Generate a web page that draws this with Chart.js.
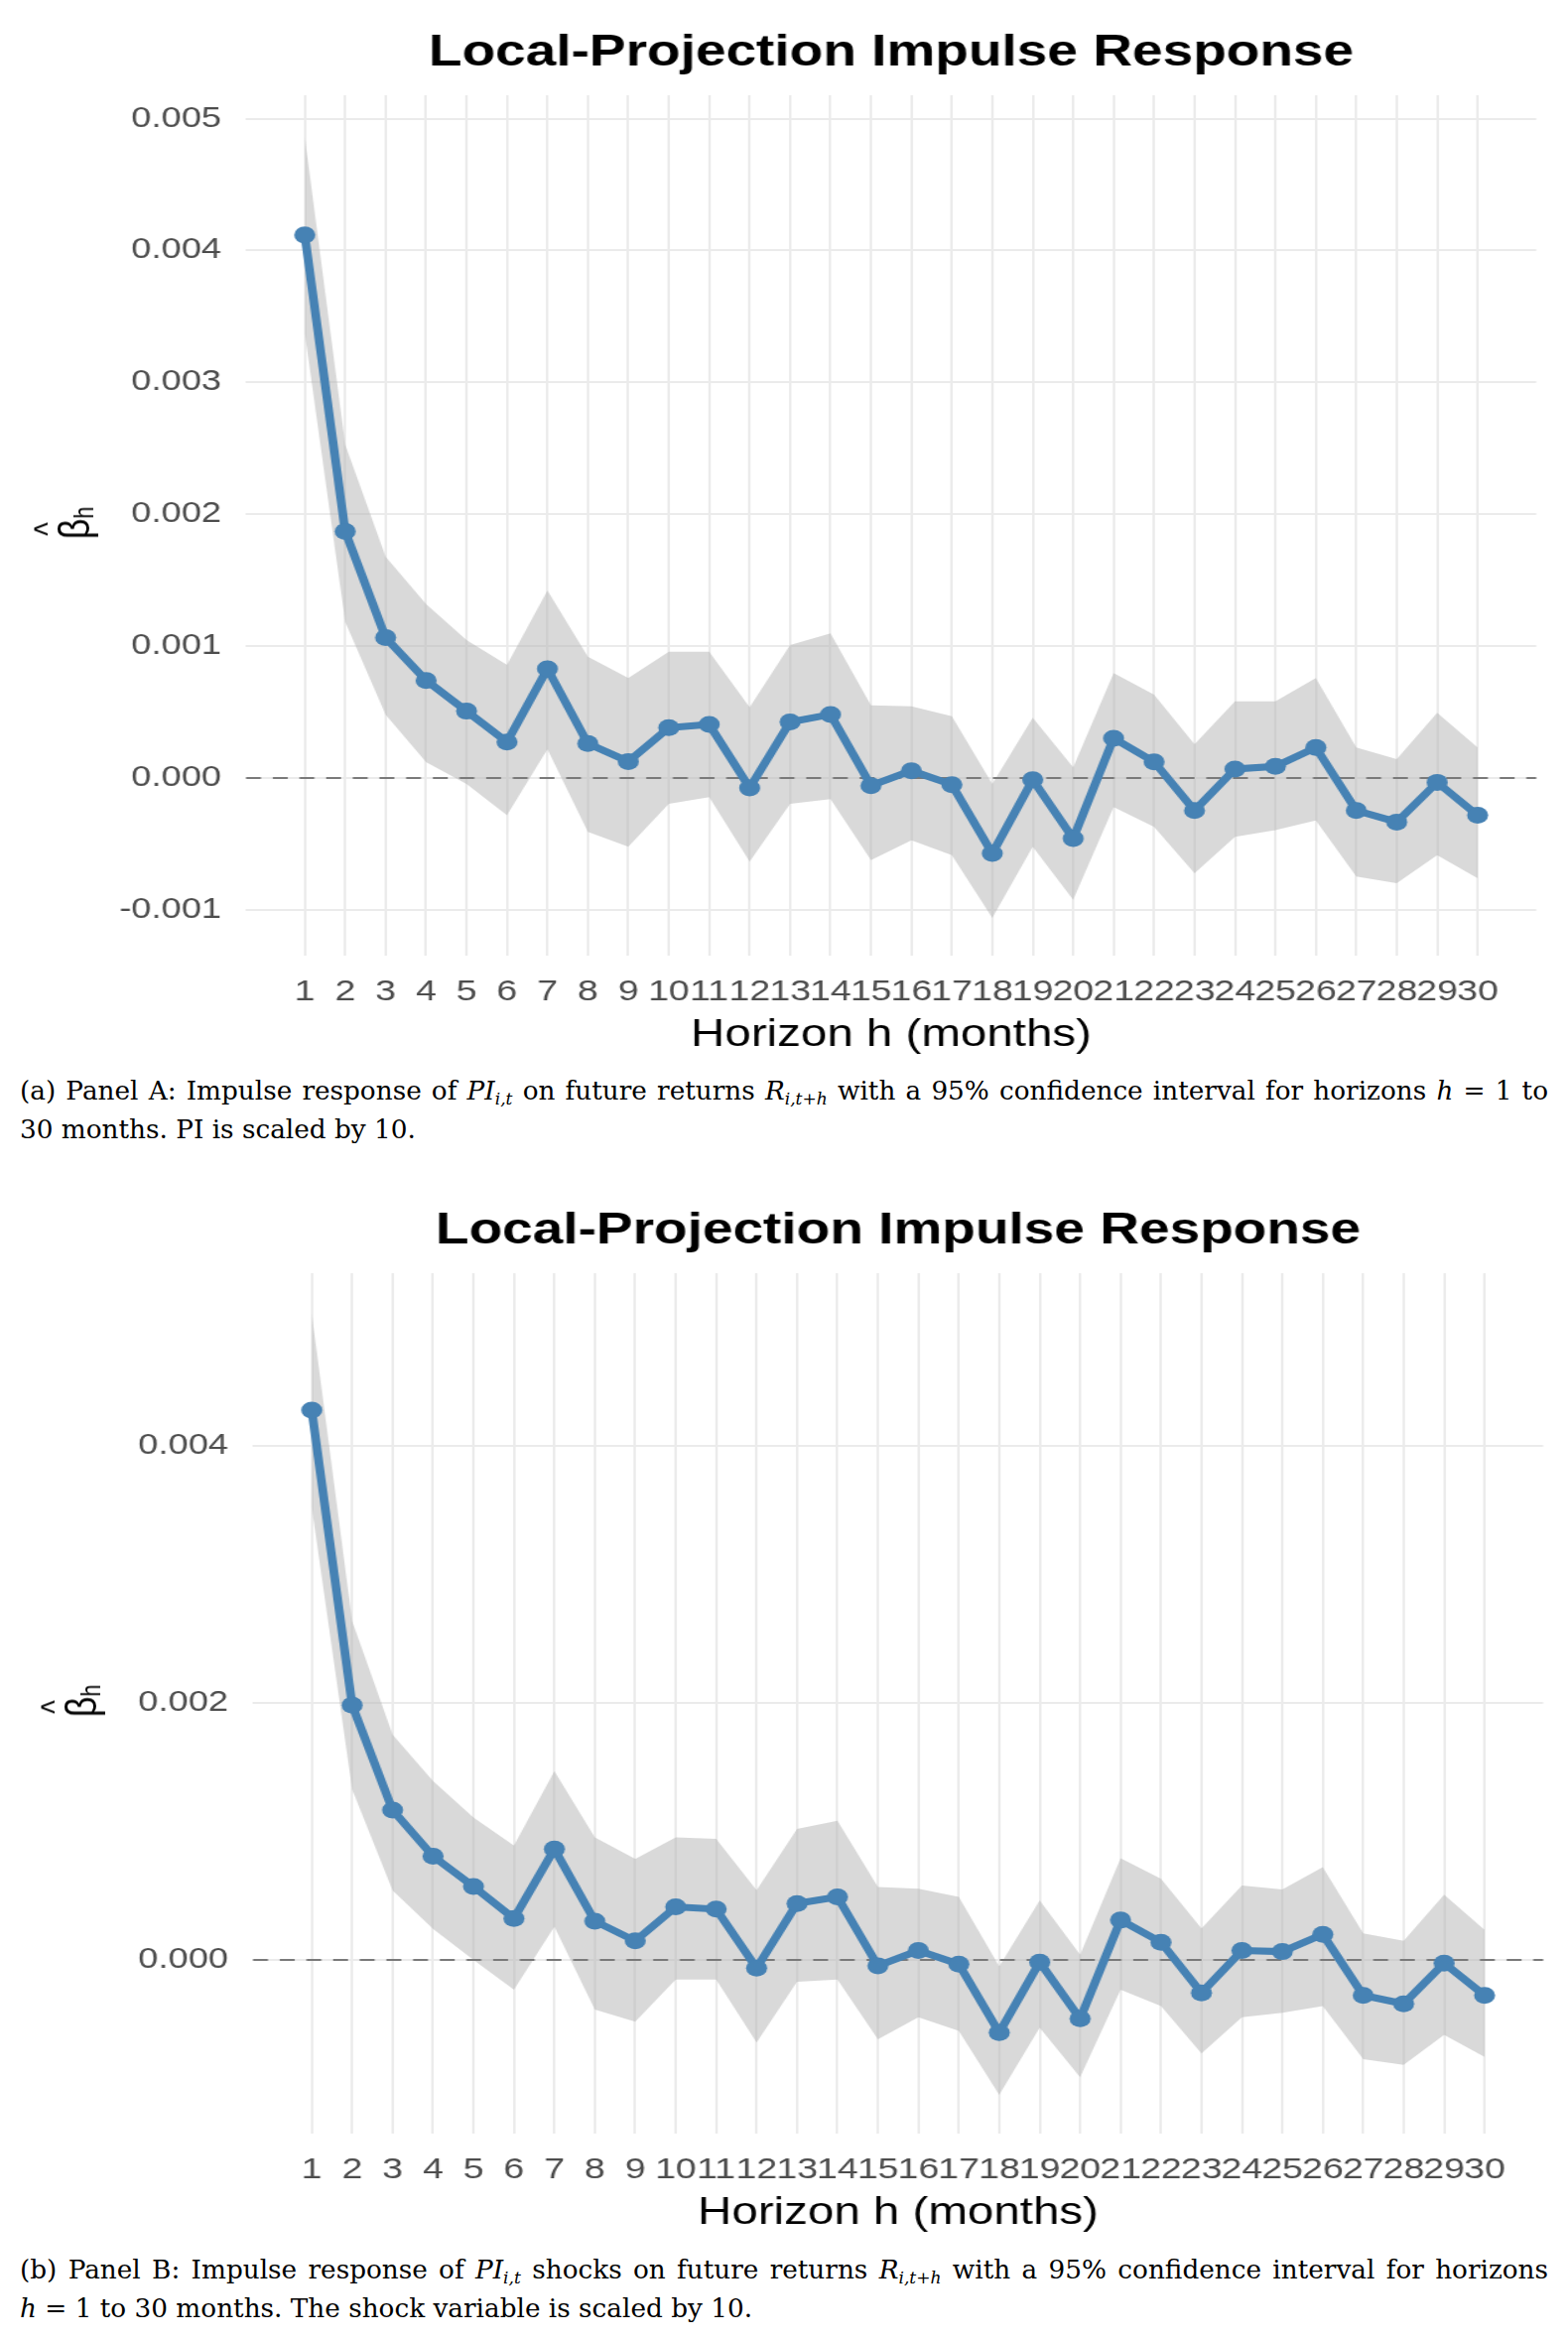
<!DOCTYPE html>
<html>
<head>
<meta charset="utf-8">
<script src="https://cdn.jsdelivr.net/npm/chart.js@4.4.1/dist/chart.umd.min.js"></script>
<style>
  html, body { margin: 0; padding: 0; background: #fff; }
  body { width: 1580px; height: 2359px; position: relative; overflow: hidden; }
  /* the original figure is stretched sideways, so each chart is drawn narrow and widened */
  .panel { position: absolute; width: 1264px; height: 1070px; transform: scaleX(1.25); transform-origin: 0 0; }
  .ytitle {
    position: absolute; left: 60px; top: 527px;
    transform: translate(-50%, -50%) rotate(-90deg);
    font: 36px "Liberation Sans", Arial, sans-serif; color: #000;
    white-space: nowrap; line-height: 1;
  }
  .ytitle .b { position: relative; display: inline-block; }
  .ytitle .hat { position: absolute; left: 0.12em; top: -0.62em; font-size: 0.8em; }
  .ytitle sub { font-size: 0.6em; vertical-align: -0.15em; }
  .cap {
    position: absolute; left: 20px; width: 1540px;
    font-family: "DejaVu Serif", serif; font-size: 26.3px; line-height: 39px; color: #000;
  }
  .cap .just { text-align: justify; text-align-last: justify; white-space: nowrap; }
  .cap sub { font-size: 0.65em; line-height: 0; vertical-align: -0.3em; }
</style>
</head>
<body>

<div class="panel" style="left:0; top:0;">
  <canvas id="chartA" width="1264" height="1070"></canvas>
  <div class="ytitle"><span class="b">β<span class="hat">^</span></span><sub>h</sub></div>
</div>
<div class="cap" style="top:1080px;">
  <div class="just">(a) Panel A: Impulse response of <i>PI</i><sub><i>i,t</i></sub> on future returns <i>R</i><sub><i>i,t+h</i></sub> with a 95% confidence interval for horizons <i>h</i> = 1 to</div>
  <div>30 months. PI is scaled by 10.</div>
</div>

<div class="panel" style="left:6.5px; top:1187px;">
  <canvas id="chartB" width="1264" height="1070"></canvas>
  <div class="ytitle"><span class="b">β<span class="hat">^</span></span><sub>h</sub></div>
</div>
<div class="cap" style="top:2268px;">
  <div class="just">(b) Panel B: Impulse response of <i>PI</i><sub><i>i,t</i></sub> shocks on future returns <i>R</i><sub><i>i,t+h</i></sub> with a 95% confidence interval for horizons</div>
  <div><i>h</i> = 1 to 30 months. The shock variable is scaled by 10.</div>
</div>

<script>
const horizons = [1, 2, 3, 4, 5, 6, 7, 8, 9, 10, 11, 12, 13, 14, 15,
  16, 17, 18, 19, 20, 21, 22, 23, 24, 25, 26, 27, 28, 29, 30];

// Panel A: PI scaled by 10
const estA = [0.004117, 0.001870, 0.001064, 0.000740, 0.000507, 0.000273, 0.000828, 0.000261, 0.000125, 0.000381,
  0.000406, -0.000075, 0.000425, 0.000482, -0.000058, 0.000055, -0.000050, -0.000572, -0.000013, -0.000459,
  0.000301, 0.000123, -0.000246, 0.000068, 0.000088, 0.000231, -0.000246, -0.000334, -0.000033, -0.000283];
const upA = [0.004863, 0.002528, 0.001678, 0.001318, 0.001046, 0.000858, 0.001422, 0.000920, 0.000758, 0.000958,
  0.000958, 0.000537, 0.001008, 0.001096, 0.000552, 0.000544, 0.000469, -0.000045, 0.000457, 0.000080,
  0.000795, 0.000632, 0.000256, 0.000582, 0.000582, 0.000758, 0.000231, 0.000143, 0.000494, 0.000231];
const loA = [0.003375, 0.001183, 0.000480, 0.000120, -0.000045, -0.000283, 0.000218, -0.000409, -0.000522, -0.000196,
  -0.000145, -0.000634, -0.000196, -0.000160, -0.000622, -0.000472, -0.000585, -0.001061, -0.000522, -0.000923,
  -0.000221, -0.000371, -0.000722, -0.000446, -0.000396, -0.000321, -0.000747, -0.000798, -0.000585, -0.000760];

// Panel B: shock variable scaled by 10
const estB = [0.004275, 0.001981, 0.001164, 0.000806, 0.000571, 0.000322, 0.000862, 0.000301, 0.000147, 0.000412,
  0.000394, -0.000064, 0.000438, 0.000489, -0.000046, 0.000072, -0.000033, -0.000566, -0.000018, -0.000458,
  0.000309, 0.000137, -0.000257, 0.000072, 0.000064, 0.000198, -0.000276, -0.000342, -0.000026, -0.000276];
const upB = [0.005027, 0.002635, 0.001750, 0.001390, 0.001107, 0.000888, 0.001467, 0.000952, 0.000785, 0.000952,
  0.000940, 0.000541, 0.001017, 0.001081, 0.000566, 0.000553, 0.000489, -0.000051, 0.000463, 0.000039,
  0.000790, 0.000631, 0.000245, 0.000579, 0.000548, 0.000721, 0.000206, 0.000147, 0.000507, 0.000232];
const loB = [0.003520, 0.001325, 0.000540, 0.000240, 0.000000, -0.000232, 0.000257, -0.000386, -0.000481, -0.000154,
  -0.000154, -0.000643, -0.000170, -0.000154, -0.000618, -0.000446, -0.000553, -0.001050, -0.000528, -0.000914,
  -0.000232, -0.000360, -0.000728, -0.000446, -0.000412, -0.000360, -0.000772, -0.000816, -0.000584, -0.000754];

const yTicksA = [-0.001, 0, 0.001, 0.002, 0.003, 0.004, 0.005];
const yTicksB = [0, 0.002, 0.004];
const yRangeA = [-0.001347, 0.005177];
const yRangeB = [-0.001351, 0.005339];
const xRange = [-0.45, 31.45];

const FONT = '"Liberation Sans", Arial, sans-serif';
const BLUE = '#4682B4';
const BAND = 'rgba(179, 179, 179, 0.5)';
const GRID = '#EBEBEB';
const TICK = '#4D4D4D';

// dashed reference line at zero, over the band and under the estimate line
const zeroLine = {
  id: 'zeroLine',
  beforeDatasetsDraw(chart) {
    const { ctx, chartArea, scales } = chart;
    const y = scales.y.getPixelForValue(0);
    ctx.save();
    ctx.strokeStyle = '#7A7A7A';
    ctx.lineWidth = 2;
    ctx.setLineDash([12, 9.5]);
    ctx.beginPath();
    ctx.moveTo(chartArea.left, y);
    ctx.lineTo(chartArea.right, y);
    ctx.stroke();
    ctx.restore();
  }
};

function makeChart(id, est, up, lo, yTicks, yRange) {
  const pts = (arr) => horizons.map((h, i) => ({ x: h, y: arr[i] }));
  return new Chart(document.getElementById(id), {
    type: 'line',
    data: {
      datasets: [
        {
          label: 'estimate',
          data: pts(est),
          borderColor: BLUE,
          backgroundColor: BLUE,
          borderWidth: 7,
          pointRadius: 8.5,
          pointHoverRadius: 8.5,
          pointBorderWidth: 0,
          pointBackgroundColor: BLUE,
          fill: false,
          tension: 0,
          order: 0,
        },
        {
          label: 'upper',
          data: pts(up),
          borderColor: 'rgba(0,0,0,0)',
          borderWidth: 0,
          pointRadius: 0,
          backgroundColor: BAND,
          fill: '+1',
          tension: 0,
          order: 1,
        },
        {
          label: 'lower',
          data: pts(lo),
          borderColor: 'rgba(0,0,0,0)',
          borderWidth: 0,
          pointRadius: 0,
          fill: false,
          tension: 0,
          order: 2,
        },
      ],
    },
    options: {
      responsive: false,
      animation: false,
      devicePixelRatio: 1,
      layout: { padding: { left: 0, right: 25.6, top: 0, bottom: 0 } },
      scales: {
        x: {
          type: 'linear',
          min: xRange[0],
          max: xRange[1],
          afterBuildTicks: (scale) => {
            scale.ticks = horizons.map((v) => ({ value: v }));
          },
          afterFit: (scale) => {
            scale.height = 107;
          },
          grid: { color: GRID, lineWidth: 2, drawTicks: false },
          border: { display: false },
          ticks: {
            autoSkip: false,
            maxRotation: 0,
            minRotation: 0,
            padding: 19,
            color: TICK,
            font: { size: 30, family: FONT },
            callback: (v) => String(v),
          },
          title: {
            display: true,
            text: 'Horizon h (months)',
            color: '#000',
            font: { size: 38, family: FONT },
            padding: { top: 0, bottom: 4 },
          },
        },
        y: {
          min: yRange[0],
          max: yRange[1],
          afterBuildTicks: (scale) => {
            scale.ticks = yTicks.map((v) => ({ value: v }));
          },
          afterFit: (scale) => {
            scale.width = 198.4;
          },
          grid: { color: GRID, lineWidth: 2, drawTicks: false },
          border: { display: false },
          ticks: {
            padding: 20,
            color: TICK,
            font: { size: 29, family: FONT },
            callback: (v) => v.toFixed(3),
          },
        },
      },
      plugins: {
        legend: { display: false },
        tooltip: { enabled: false },
        filler: { propagate: false, drawTime: 'beforeDatasetsDraw' },
        title: {
          display: true,
          text: 'Local-Projection Impulse Response',
          color: '#000',
          fullSize: false,
          font: { size: 44, weight: 'bold', family: FONT },
          padding: { top: 27.35, bottom: 15.85 },
        },
      },
    },
    plugins: [zeroLine],
  });
}

makeChart('chartA', estA, upA, loA, yTicksA, yRangeA);
makeChart('chartB', estB, upB, loB, yTicksB, yRangeB);
</script>
</body>
</html>
